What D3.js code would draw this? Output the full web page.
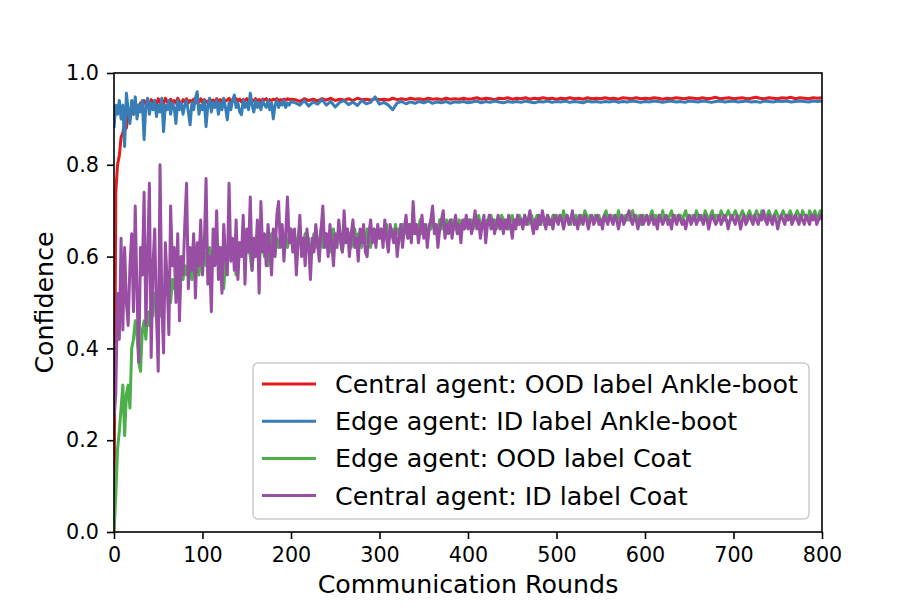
<!DOCTYPE html>
<html><head><meta charset="utf-8">
<script src="https://cdn.jsdelivr.net/npm/d3@7/dist/d3.min.js"></script>
<style>body{margin:0;background:#fff} svg{display:block} text{font-family:"DejaVu Sans",sans-serif}</style>
</head><body><svg id="c" width="913" height="609"></svg>
<script>
// sampled communication rounds
const ankleRounds = d3.range(0, 201, 2).concat(d3.range(205, 801, 5)); // Ankle-boot series
const coatRounds = d3.range(0, 801, 2);                                 // Coat series

const seriesNames = [
  "Central agent: OOD label Ankle-boot",
  "Edge agent: ID label Ankle-boot",
  "Edge agent: OOD label Coat",
  "Central agent: ID label Coat"
];
const seriesColors = ["#e41a1c", "#377eb8", "#4daf4a", "#984ea3"];

const yTicks = [0, 0.2, 0.4, 0.6, 0.8, 1.0];
const xTicks = [0, 100, 200, 300, 400, 500, 600, 700, 800];

const centralOODAnkle = [
  0.00,0.74,0.80,0.82,0.86,0.87,0.89,0.88,0.91,0.90,
  0.92,0.91,0.925,0.93,0.92,0.935,0.93,0.94,0.932,0.938,
  0.93,0.942,0.935,0.94,0.93,0.944,0.936,0.94,0.933,0.945,
  0.938,0.93,0.943,0.936,0.94,0.934,0.945,0.938,0.932,0.942,
  0.937,0.944,0.935,0.94,0.938,0.943,0.934,0.941,0.937,0.944,
  0.936,0.942,0.938,0.935,0.943,0.939,0.941,0.936,0.944,0.938,
  0.942,0.937,0.943,0.939,0.941,0.945,0.938,0.942,0.94,0.944,
  0.939,0.943,0.937,0.942,0.94,0.944,0.938,0.943,0.941,0.939,
  0.944,0.94,0.942,0.938,0.943,0.941,0.944,0.939,0.942,0.94,
  0.943,0.941,0.944,0.939,0.942,0.94,0.943,0.941,0.944,0.942,
  0.943,
  0.942,0.938,0.944,0.940,0.943,0.939,0.944,0.941,0.945,0.940,
  0.943,0.941,0.944,0.940,0.945,0.942,0.943,0.941,0.944,0.942,
  0.943,0.941,0.945,0.942,0.944,0.942,0.945,0.943,0.944,0.942,
  0.945,0.943,0.944,0.942,0.945,0.943,0.944,0.943,0.945,0.943,
  0.944,0.946,0.943,0.945,0.944,0.942,0.945,0.944,0.946,0.943,
  0.945,0.944,0.946,0.943,0.945,0.944,0.946,0.944,0.945,0.943,
  0.945,0.944,0.946,0.944,0.945,0.943,0.946,0.944,0.945,0.944,
  0.946,0.944,0.945,0.943,0.946,0.945,0.944,0.946,0.944,0.945,
  0.944,0.946,0.945,0.943,0.945,0.944,0.946,0.945,0.944,0.946,
  0.945,0.944,0.946,0.944,0.945,0.947,0.944,0.945,0.946,0.944,
  0.945,0.946,0.944,0.945,0.947,0.945,0.944,0.946,0.945,0.944,
  0.946,0.945,0.947,0.944,0.946,0.945,0.944,0.946,0.945,0.946
];

const edgeIDAnkle = [
  0.88,0.93,0.91,0.94,0.90,0.93,0.84,0.956,0.92,0.89,
  0.94,0.91,0.948,0.90,0.93,0.915,0.94,0.855,0.93,0.945,
  0.91,0.935,0.92,0.94,0.905,0.93,0.915,0.945,0.872,0.93,
  0.92,0.94,0.91,0.935,0.925,0.89,0.94,0.92,0.935,0.91,
  0.93,0.94,0.915,0.887,0.935,0.92,0.945,0.959,0.91,0.93,
  0.92,0.94,0.883,0.93,0.945,0.915,0.935,0.925,0.94,0.91,
  0.935,0.92,0.945,0.925,0.898,0.935,0.92,0.94,0.952,0.925,
  0.935,0.915,0.909,0.94,0.925,0.935,0.92,0.956,0.93,0.915,
  0.94,0.925,0.935,0.92,0.94,0.93,0.925,0.94,0.92,0.935,
  0.90,0.93,0.94,0.925,0.935,0.93,0.94,0.925,0.935,0.93,
  0.938,
  0.935,0.930,0.940,0.928,0.937,0.932,0.942,0.930,0.938,0.926,
  0.936,0.940,0.931,0.937,0.929,0.940,0.933,0.936,0.948,0.932,
  0.936,0.930,0.920,0.935,0.938,0.933,0.937,0.934,0.938,0.935,
  0.939,0.934,0.937,0.935,0.938,0.934,0.937,0.936,0.938,0.935,
  0.937,0.939,0.935,0.938,0.936,0.939,0.937,0.935,0.938,0.936,
  0.938,0.936,0.939,0.937,0.935,0.938,0.937,0.939,0.936,0.938,
  0.937,0.939,0.936,0.938,0.937,0.935,0.939,0.937,0.938,0.936,
  0.938,0.937,0.939,0.936,0.938,0.937,0.939,0.938,0.936,0.938,
  0.937,0.939,0.938,0.936,0.938,0.939,0.937,0.938,0.936,0.939,
  0.938,0.937,0.939,0.938,0.936,0.938,0.939,0.937,0.938,0.939,
  0.937,0.938,0.939,0.937,0.938,0.936,0.939,0.938,0.937,0.939,
  0.938,0.939,0.937,0.938,0.939,0.938,0.937,0.939,0.938,0.939
];

const edgeOODCoat = [
  0.00,0.08,0.18,0.22,0.27,0.32,0.21,0.30,0.32,0.27,
  0.40,0.42,0.46,0.43,0.37,0.35,0.44,0.46,0.42,0.48,
  0.45,0.50,0.47,0.52,0.49,0.51,0.47,0.53,0.50,0.52,
  0.54,0.53,0.50,0.55,0.53,0.56,0.54,0.51,0.57,0.55,
  0.58,0.56,0.59,0.57,0.55,0.59,0.60,0.58,0.56,0.60,
  0.59,0.61,0.58,0.60,0.62,0.59,0.61,0.63,0.60,0.58,
  0.62,0.60,0.53,0.59,0.61,0.63,0.60,0.62,0.59,0.56,
  0.61,0.63,0.60,0.62,0.64,0.61,0.63,0.60,0.57,0.62,
  0.64,0.61,0.63,0.65,0.62,0.60,0.64,0.58,0.62,0.65,
  0.63,0.61,0.64,0.62,0.64,0.66,0.63,0.65,0.62,0.64,
  0.66,
  0.63,0.65,0.62,0.64,0.66,0.61,0.63,0.65,0.62,0.64,
  0.60,0.63,0.65,0.62,0.64,0.63,0.66,0.62,0.64,0.65,
  0.63,0.61,0.64,0.66,0.62,0.64,0.65,0.63,0.61,0.64,
  0.66,0.63,0.65,0.62,0.64,0.66,0.63,0.65,0.64,0.62,
  0.65,0.63,0.66,0.64,0.62,0.65,0.66,0.63,0.65,0.64,
  0.66,0.64,0.65,0.67,0.63,0.65,0.66,0.64,0.67,0.65,
  0.66,0.64,0.67,0.65,0.66,0.64,0.67,0.66,0.65,0.67,
  0.65,0.66,0.68,0.65,0.67,0.66,0.64,0.67,0.66,0.68,
  0.66,0.67,0.65,0.68,0.66,0.67,0.65,0.68,0.67,0.66,
  0.68,0.66,0.67,0.65,0.68,0.67,0.66,0.68,0.67,0.68,
  0.67,0.68,0.66,0.68,0.67,0.69,0.67,0.66,0.68,0.67,
  0.68,0.67,0.69,0.67,0.68,0.66,0.68,0.67,0.69,0.68,
  0.67,0.68,0.66,0.68,0.69,0.67,0.68,0.67,0.69,0.68,
  0.67,0.69,0.68,0.67,0.68,0.69,0.67,0.68,0.69,0.67,
  0.68,0.69,0.67,0.68,0.69,0.68,0.67,0.69,0.68,0.69,
  0.68,0.69,0.68,0.70,0.68,0.69,0.68,0.67,0.69,0.68,
  0.69,0.68,0.67,0.69,0.68,0.70,0.69,0.68,0.69,0.68,
  0.68,0.69,0.68,0.69,0.67,0.68,0.69,0.70,0.68,0.69,
  0.69,0.68,0.69,0.68,0.70,0.68,0.69,0.68,0.69,0.68,
  0.68,0.69,0.70,0.68,0.69,0.68,0.69,0.67,0.69,0.68,
  0.69,0.68,0.69,0.70,0.68,0.69,0.68,0.69,0.68,0.70,
  0.68,0.69,0.68,0.69,0.70,0.68,0.69,0.68,0.69,0.69,
  0.68,0.69,0.70,0.68,0.69,0.68,0.69,0.68,0.70,0.69,
  0.68,0.69,0.68,0.70,0.69,0.68,0.69,0.70,0.68,0.69,
  0.69,0.68,0.70,0.69,0.68,0.69,0.70,0.69,0.68,0.69,
  0.70,0.69,0.68,0.69,0.70,0.69,0.68,0.69,0.70,0.69,
  0.68,0.69,0.70,0.69,0.68,0.70,0.69,0.68,0.69,0.70,
  0.69,0.68,0.69,0.70,0.69,0.68,0.69,0.70,0.69,0.68,
  0.69,0.70,0.69,0.68,0.69,0.70,0.69,0.68,0.70,0.69,
  0.69,0.68,0.70,0.69,0.69,0.70,0.68,0.69,0.70,0.69
];

const centralIDCoat = [
  0.25,0.30,0.52,0.42,0.64,0.44,0.62,0.50,0.45,0.58,
  0.65,0.48,0.71,0.52,0.37,0.62,0.56,0.74,0.45,0.60,
  0.76,0.38,0.58,0.66,0.47,0.35,0.80,0.50,0.39,0.63,
  0.55,0.43,0.71,0.58,0.62,0.50,0.65,0.46,0.60,0.56,
  0.67,0.76,0.53,0.62,0.57,0.65,0.51,0.63,0.58,0.68,
  0.56,0.62,0.77,0.54,0.60,0.48,0.66,0.58,0.70,0.55,
  0.62,0.52,0.67,0.60,0.56,0.76,0.59,0.64,0.57,0.68,
  0.55,0.63,0.60,0.69,0.54,0.66,0.61,0.73,0.57,0.64,
  0.60,0.68,0.52,0.72,0.61,0.65,0.58,0.67,0.62,0.56,
  0.66,0.60,0.69,0.72,0.62,0.67,0.59,0.65,0.73,0.63,
  0.66,
  0.61,0.66,0.56,0.63,0.69,0.60,0.64,0.58,0.66,0.62,
  0.55,0.64,0.61,0.67,0.63,0.59,0.66,0.71,0.62,0.65,
  0.60,0.67,0.63,0.58,0.65,0.62,0.68,0.64,0.61,0.70,
  0.63,0.66,0.60,0.65,0.68,0.62,0.64,0.59,0.66,0.63,
  0.67,0.61,0.60,0.65,0.68,0.63,0.66,0.62,0.67,0.64,
  0.66,0.62,0.68,0.64,0.61,0.67,0.65,0.63,0.66,0.60,
  0.64,0.67,0.62,0.66,0.69,0.64,0.67,0.63,0.72,0.65,
  0.67,0.63,0.66,0.69,0.64,0.67,0.62,0.66,0.68,0.71,
  0.65,0.67,0.62,0.66,0.68,0.70,0.64,0.67,0.65,0.68,
  0.64,0.67,0.69,0.65,0.67,0.63,0.68,0.66,0.69,0.66,
  0.68,0.65,0.67,0.70,0.66,0.68,0.64,0.67,0.69,0.63,
  0.67,0.69,0.66,0.68,0.65,0.67,0.69,0.66,0.68,0.65,
  0.68,0.66,0.69,0.67,0.64,0.68,0.66,0.69,0.67,0.68,
  0.66,0.69,0.67,0.68,0.70,0.67,0.65,0.68,0.66,0.69,
  0.67,0.70,0.68,0.66,0.69,0.67,0.68,0.66,0.69,0.68,
  0.67,0.69,0.68,0.66,0.68,0.69,0.67,0.68,0.70,0.67,
  0.68,0.66,0.69,0.68,0.67,0.69,0.68,0.66,0.68,0.69,
  0.67,0.68,0.69,0.67,0.68,0.66,0.69,0.68,0.67,0.69,
  0.68,0.67,0.69,0.68,0.66,0.68,0.69,0.67,0.68,0.69,
  0.70,0.68,0.67,0.69,0.68,0.66,0.68,0.69,0.67,0.68,
  0.69,0.67,0.68,0.69,0.67,0.68,0.66,0.69,0.68,0.67,
  0.68,0.69,0.67,0.68,0.66,0.69,0.68,0.67,0.69,0.68,
  0.67,0.68,0.66,0.68,0.69,0.67,0.68,0.69,0.67,0.68,
  0.69,0.68,0.67,0.69,0.68,0.66,0.68,0.69,0.68,0.67,
  0.68,0.69,0.67,0.68,0.69,0.68,0.66,0.68,0.69,0.68,
  0.67,0.69,0.68,0.66,0.68,0.69,0.67,0.68,0.69,0.68,
  0.67,0.69,0.68,0.67,0.69,0.68,0.70,0.68,0.67,0.69,
  0.68,0.67,0.69,0.68,0.66,0.68,0.69,0.68,0.67,0.69,
  0.68,0.69,0.67,0.68,0.69,0.68,0.67,0.69,0.68,0.67,
  0.69,0.68,0.67,0.69,0.68,0.69,0.67,0.68,0.69,0.68
];

const seriesValues = [centralOODAnkle, edgeIDAnkle, edgeOODCoat, centralIDCoat];
const seriesRounds = [ankleRounds, ankleRounds, coatRounds, coatRounds];

const svg = d3.select("#c");
const mLeft = 114, mRight = 822, mTop = 73, mBottom = 532;
const x = d3.scaleLinear().domain([0, 800]).range([mLeft, mRight]);
const y = d3.scaleLinear().domain([0, 1]).range([mBottom, mTop]);

svg.append("defs").append("clipPath").attr("id", "clip")
  .append("rect").attr("x", mLeft).attr("y", mTop).attr("width", mRight - mLeft).attr("height", mBottom - mTop);

const plot = svg.append("g").attr("clip-path", "url(#clip)");
seriesValues.forEach((vals, k) => {
  const r = seriesRounds[k];
  const line = d3.line().x((d, i) => x(r[i])).y(d => y(d));
  plot.append("path").datum(vals)
    .attr("d", line)
    .attr("fill", "none")
    .attr("stroke", seriesColors[k])
    .attr("stroke-width", 3)
    .attr("stroke-linejoin", "round");
});

// axes
const xAxis = d3.axisBottom(x).tickValues(xTicks).tickFormat(d3.format("d")).tickSize(7).tickPadding(8).tickSizeOuter(0);
const yAxis = d3.axisLeft(y).tickValues(yTicks).tickFormat(d3.format(".1f")).tickSize(7).tickPadding(8).tickSizeOuter(0);
const gx = svg.append("g").attr("transform", `translate(0,${mBottom})`).call(xAxis);
const gy = svg.append("g").attr("transform", `translate(${mLeft},0)`).call(yAxis);
[gx, gy].forEach(g => {
  g.select(".domain").remove();
  g.selectAll(".tick line").attr("stroke", "#000").attr("stroke-width", 1.6);
  g.selectAll(".tick text").attr("fill", "#000").style("font-size", "20.7px").style("font-family", "DejaVu Sans");
});

svg.append("rect").attr("x", mLeft).attr("y", mTop).attr("width", mRight - mLeft).attr("height", mBottom - mTop)
  .attr("fill", "none").attr("stroke", "#000").attr("stroke-width", 1.6);

svg.append("text").attr("x", (mLeft + mRight) / 2).attr("y", 593).attr("text-anchor", "middle")
  .style("font-size", "25.3px").text("Communication Rounds");
svg.append("text").attr("transform", `translate(53,${(mTop + mBottom) / 2}) rotate(-90)`).attr("text-anchor", "middle")
  .style("font-size", "25.3px").text("Confidence");

// legend
const lg = svg.append("g");
lg.append("rect").attr("x", 253).attr("y", 363).attr("width", 556).attr("height", 156).attr("rx", 5)
  .attr("fill", "#fff").attr("fill-opacity", 0.8).attr("stroke", "#cccccc").attr("stroke-width", 1.5);
seriesNames.forEach((name, k) => {
  const cy = 384 + k * 37.2;
  lg.append("line").attr("x1", 262).attr("x2", 316).attr("y1", cy).attr("y2", cy)
    .attr("stroke", seriesColors[k]).attr("stroke-width", 3);
  lg.append("text").attr("x", 335).attr("y", cy + 9).style("font-size", "25.3px").text(name);
});
</script>
</body></html>
